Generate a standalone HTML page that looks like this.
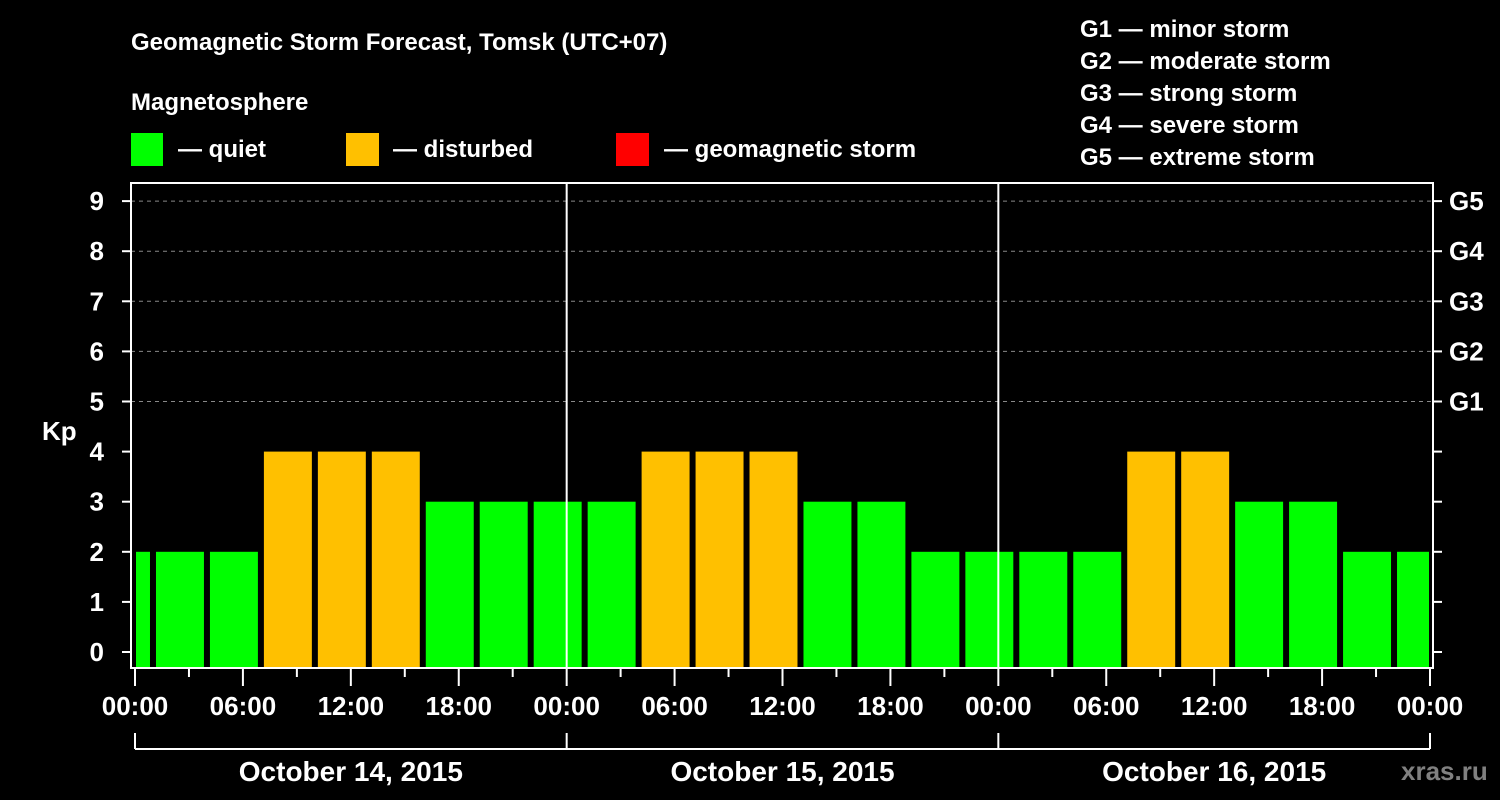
<!DOCTYPE html>
<html><head><meta charset="utf-8"><style>
html,body{margin:0;padding:0;background:#000;width:1500px;height:800px;overflow:hidden}
svg{display:block;font-family:"Liberation Sans",Arial,sans-serif;font-weight:bold}
</style></head><body>
<svg id="c" width="1500" height="800" viewBox="0 0 1500 800">
<text x="131" y="50" fill="#fff" font-size="24">Geomagnetic Storm Forecast, Tomsk (UTC+07)</text>
<text x="131" y="110" fill="#fff" font-size="24">Magnetosphere</text>
<g><rect x="131" y="133" width="32" height="33" fill="#00ff00"/><text x="178" y="157" fill="#fff" font-size="24">— quiet</text></g>
<g><rect x="346" y="133" width="33" height="33" fill="#ffc000"/><text x="393" y="157" fill="#fff" font-size="24">— disturbed</text></g>
<g><rect x="616" y="133" width="33" height="33" fill="#ff0000"/><text x="664" y="157" fill="#fff" font-size="24">— geomagnetic storm</text></g>
<g fill="#fff" font-size="24">
<text x="1080" y="37">G1 — minor storm</text>
<text x="1080" y="69">G2 — moderate storm</text>
<text x="1080" y="101">G3 — strong storm</text>
<text x="1080" y="133">G4 — severe storm</text>
<text x="1080" y="165">G5 — extreme storm</text>
</g>
<text x="42" y="440" fill="#fff" font-size="26">Kp</text>
<text x="1401" y="780" fill="#808080" font-size="26">xras.ru</text>
<g id="plot"></g>
</svg>
<script>
const kpValues = [2,2,2,4,4,4,3,3,3,3,4,4,4,3,3,2,2,2,2,4,4,3,3,2,2];
const dayLabels = ["October 14, 2015","October 15, 2015","October 16, 2015"];
const hourLabels = ["00:00","06:00","12:00","18:00"];
const gLabels = ["G1","G2","G3","G4","G5"];
const firstBarHour = -2;
const ns="http://www.w3.org/2000/svg";
const g=document.getElementById('plot');
const X0=135,X1=1430,TOT=72,Y0=652,PU=50.1,TOP=183,BOT=668,L=131,R=1433;
const xs=h=>X0+(X1-X0)*h/TOT;
const ys=v=>Y0-v*PU;
function mk(t,a,txt){const e=document.createElementNS(ns,t);for(const k in a)e.setAttribute(k,a[k]);if(txt!==undefined)e.textContent=txt;g.appendChild(e);return e;}
// gridlines
for(let v=5;v<=9;v++){const e=mk('line',{x1:L,x2:R,y1:ys(v),y2:ys(v),stroke:'#888','stroke-width':1,'stroke-dasharray':'4,4'});

}
// bars
kpValues.forEach((v,i)=>{const h0=firstBarHour+3*i;let a=xs(h0)+3,b=xs(h0+3)-3;a=Math.max(a,X0+1);b=Math.min(b,X1-1);
const e=mk('rect',{x:a,y:ys(v),width:b-a,height:BOT-ys(v),fill:v>=5?'#ff0000':(v>=4?'#ffc000':'#00ff00')});

});
// day separators
for(let d=1;d<3;d++){const e=mk('line',{x1:xs(24*d),x2:xs(24*d),y1:TOP,y2:BOT,stroke:'#fff','stroke-width':2});

}
// frame
const fr=mk('rect',{x:L,y:TOP,width:R-L,height:BOT-TOP,fill:'none',stroke:'#fff','stroke-width':2});


// y ticks
for(let v=0;v<=9;v++){const y=ys(v);
mk('line',{x1:L-9,x2:L,y1:y,y2:y,stroke:'#fff','stroke-width':2});
mk('line',{x1:R,x2:R+9,y1:y,y2:y,stroke:'#fff','stroke-width':2});
const t=mk('text',{x:104,y:y+9,fill:'#fff','font-size':26,'text-anchor':'end'},String(v));


if(v>=5){const gt=mk('text',{x:1449,y:y+9,fill:'#fff','font-size':26},gLabels[v-5]);

}}
// x ticks
for(let h=0;h<=TOT;h+=3){const x=xs(h),major=h%6===0;
mk('line',{x1:x,x2:x,y1:BOT,y2:major?686:677,stroke:'#fff','stroke-width':2});
if(major&&h%6===0&&(h%24)%6===0&&[0,6,12,18].includes(h%24)){const t=mk('text',{x:x,y:715,fill:'#fff','font-size':26,'text-anchor':'middle'},hourLabels[(h%24)/6]);

}}
// date bracket
mk('line',{x1:X0,x2:X1,y1:749,y2:749,stroke:'#fff','stroke-width':2});
for(let d=0;d<=3;d++)mk('line',{x1:xs(24*d),x2:xs(24*d),y1:733,y2:749,stroke:'#fff','stroke-width':2});
dayLabels.forEach((s,d)=>{const t=mk('text',{x:xs(24*d+12),y:781,fill:'#fff','font-size':28,'text-anchor':'middle'},s);

});
</script>
</body></html>
